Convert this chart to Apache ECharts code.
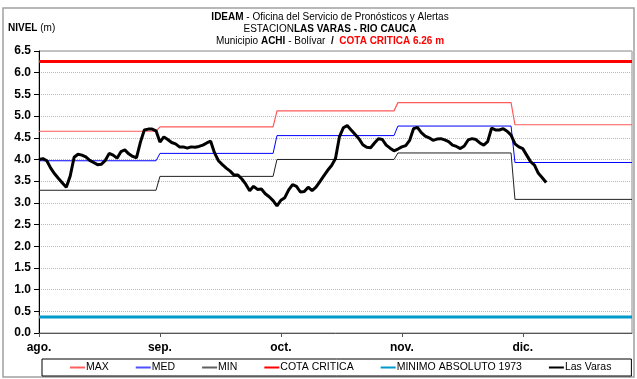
<!DOCTYPE html>
<html>
<head>
<meta charset="utf-8">
<script src="https://cdn.jsdelivr.net/npm/echarts@6/dist/echarts.min.js"></script>
<style>
  html, body { margin: 0; padding: 0; background: #fff; }
  #chart { width: 637px; height: 379px; }
</style>
</head>
<body>
<div id="chart"></div>
<script>
// Days counted from 1 August (day 0) to 31 December (day 152)
const monthLabels = ['ago.', 'sep.', 'oct.', 'nov.', 'dic.'];
const monthStart = [0, 31, 61, 92, 122];
const monthEnd = [30, 60, 91, 121, 152];

// Monthly historical levels (m)
const maxLevels = [4.65, 4.75, 5.12, 5.31, 4.80];
const medLevels = [3.97, 4.14, 4.55, 4.77, 3.93];
const minLevels = [3.29, 3.61, 4.00, 4.15, 3.08];

const cotaCritica = 6.26;
const minimoAbsoluto = 0.37;

// Daily level at Las Varas, starting 1 August
const lasVaras = [
  4.00, 4.02, 3.97, 3.80, 3.67, 3.56, 3.46, 3.36, 3.62, 4.05,
  4.12, 4.10, 4.06, 3.98, 3.93, 3.88, 3.89, 3.98, 4.14, 4.10,
  4.03, 4.18, 4.22, 4.13, 4.07, 4.04, 4.40, 4.68, 4.70, 4.70,
  4.66, 4.40, 4.52, 4.46, 4.39, 4.36, 4.29, 4.29, 4.26, 4.29,
  4.28, 4.30, 4.33, 4.38, 4.42, 4.15, 3.97, 3.88, 3.80, 3.73,
  3.64, 3.64, 3.55, 3.43, 3.28, 3.38, 3.31, 3.32, 3.21, 3.14,
  3.05, 2.93, 3.06, 3.12, 3.30, 3.42, 3.38, 3.25, 3.26, 3.36,
  3.28, 3.36, 3.49, 3.62, 3.75, 3.86, 4.02, 4.52, 4.73, 4.78,
  4.68, 4.58, 4.48, 4.34, 4.28, 4.27, 4.38, 4.48, 4.46, 4.33,
  4.26, 4.20, 4.24, 4.29, 4.32, 4.44, 4.71, 4.74, 4.62, 4.54,
  4.50, 4.44, 4.47, 4.48, 4.45, 4.41, 4.33, 4.30, 4.25, 4.31,
  4.45, 4.48, 4.46, 4.38, 4.33, 4.41, 4.72, 4.68, 4.68, 4.71,
  4.65, 4.56, 4.36, 4.29, 4.25, 4.10, 3.95, 3.87, 3.68, 3.58,
  3.47
];

function monthlySteps(levels) {
  const pts = [];
  levels.forEach((v, i) => {
    pts.push([monthStart[i], v]);
    pts.push([monthEnd[i], v]);
  });
  return pts;
}
function flat(v) {
  return [[monthStart[0], v], [monthEnd[monthEnd.length - 1], v]];
}

const FONT = '"Liberation Sans", Arial, sans-serif';
const chart = echarts.init(document.getElementById('chart'), null, { renderer: 'canvas' });

const lineSeries = (name, data, color, width, z) => ({
  name, type: 'line', data, symbol: 'none', z,
  lineStyle: { color, width }, itemStyle: { color },
  emphasis: { disabled: true }, animation: false
});

chart.setOption({
  animation: false,
  backgroundColor: '#fff',
  textStyle: { fontFamily: FONT },
  graphic: [
    { type: 'rect', shape: { x: 3, y: 8, width: 631, height: 369 },
      style: { fill: 'none', stroke: '#a0a0a0', lineWidth: 1.5 }, z: -1 },
    { type: 'text', x: 330, y: 11,
      style: {
        text: '{b|IDEAM} - Oficina del Servicio de Pronósticos y Alertas\nESTACION{b|LAS VARAS - RIO CAUCA}\nMunicipio {b|ACHI} - Bolívar  {b|/}  {r|COTA CRITICA 6.26 m}',
        align: 'center', verticalAlign: 'top', fontFamily: FONT, fontSize: 10, lineHeight: 12, fill: '#000',
        rich: {
          b: { fontWeight: 'bold', fontFamily: FONT, fontSize: 10, lineHeight: 12 },
          r: { fontWeight: 'bold', fontFamily: FONT, fontSize: 10, lineHeight: 12, fill: '#ff0000', color: '#ff0000' }
        }
      }
    },
    { type: 'text', x: 8, y: 23,
      style: { text: '{b|NIVEL} (m)', fontFamily: FONT, fontSize: 10, fill: '#000', verticalAlign: 'top',
        rich: { b: { fontWeight: 'bold', fontFamily: FONT, fontSize: 10 } } } }
  ],
  grid: { left: 39, right: 5, top: 51, bottom: 46, show: true, borderColor: '#8a8a8a', borderWidth: 1 },
  xAxis: {
    type: 'value', min: 0, max: 152, interval: 31,
    axisLine: { lineStyle: { color: '#555', width: 1 } },
    axisTick: { show: true, inside: false, length: 4, lineStyle: { color: '#555' } },
    splitLine: { show: false },
    axisLabel: {
      color: '#000', fontWeight: 'bold', fontSize: 12, fontFamily: FONT, margin: 9,
      showMaxLabel: false,
      formatter: v => (v % 31 === 0 ? (monthLabels[v / 31] || '') : '')
    }
  },
  yAxis: {
    type: 'value', min: 0, max: 6.5, interval: 0.5,
    axisLine: { show: true, lineStyle: { color: '#000', width: 1 } },
    axisTick: { show: true, inside: false, length: 5, lineStyle: { color: '#000' } },
    splitLine: { show: true, lineStyle: { color: '#b8b8b8', type: 'dotted', width: 1 } },
    axisLabel: {
      color: '#000', fontWeight: 'bold', fontSize: 12, fontFamily: FONT, margin: 8,
      formatter: v => v.toFixed(1)
    }
  },
  legend: {
    left: 42, bottom: 3,
    padding: [3, 20, 3, 28],
    itemGap: 27, itemWidth: 15, itemHeight: 2,
    borderColor: '#000', borderWidth: 1,
    icon: 'rect',
    textStyle: { fontSize: 10.5, fontFamily: FONT, color: '#000', padding: [0, 0, 0, -4] },
    data: [
      { name: 'MAX', itemStyle: { color: '#ff6060' } },
      { name: 'MED', itemStyle: { color: '#5050ff' } },
      { name: 'MIN', itemStyle: { color: '#606060' } },
      { name: 'COTA CRITICA', itemStyle: { color: '#ff0000' } },
      { name: 'MINIMO ABSOLUTO 1973', itemStyle: { color: '#0099cc' } },
      { name: 'Las Varas', itemStyle: { color: '#000' } }
    ]
  },
  series: [
    lineSeries('MAX', monthlySteps(maxLevels), '#ff5a5a', 1.2, 2),
    lineSeries('MED', monthlySteps(medLevels), '#0000ff', 1, 2),
    lineSeries('MIN', monthlySteps(minLevels), '#202020', 1, 2),
    lineSeries('COTA CRITICA', flat(cotaCritica), '#ff0000', 3, 3),
    lineSeries('MINIMO ABSOLUTO 1973', flat(minimoAbsoluto), '#0099cc', 3, 3),
    lineSeries('Las Varas', lasVaras.map((v, i) => [i, v]), '#000', 3, 5)
  ]
});
</script>
</body>
</html>
